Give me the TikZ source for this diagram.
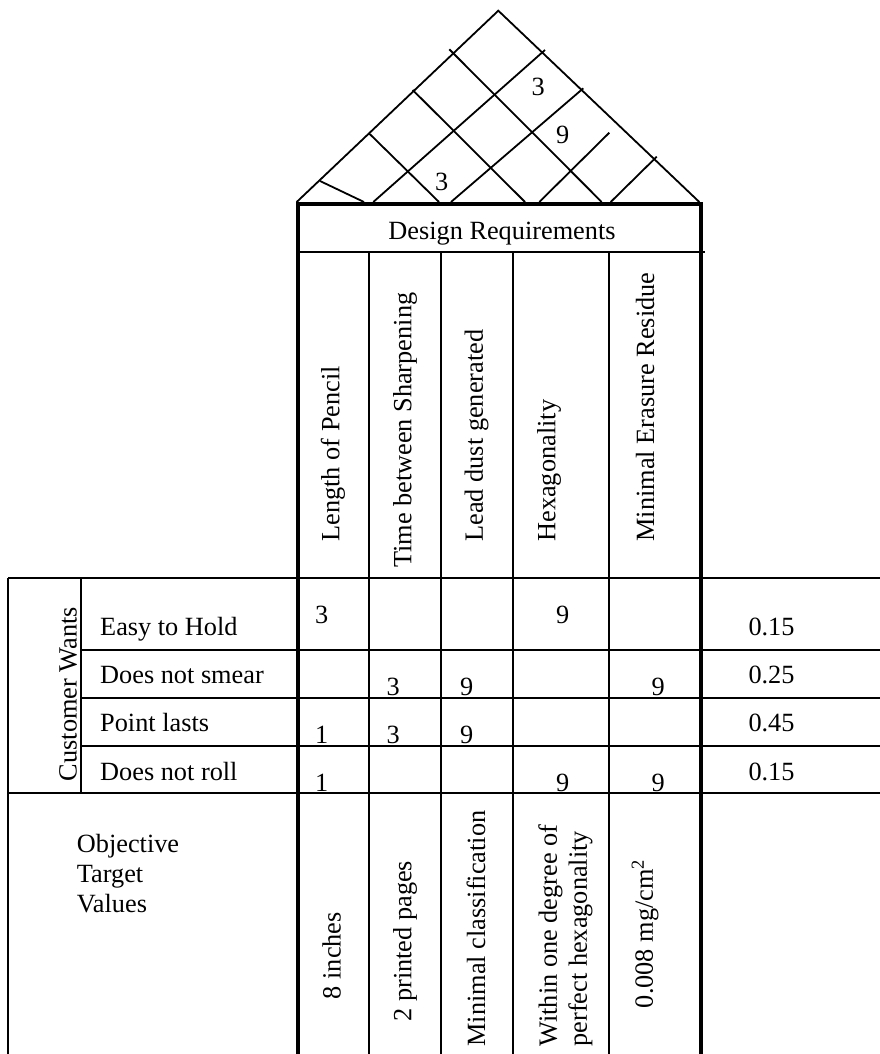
\documentclass[tikz,border=0pt]{standalone}
\usepackage{fontspec}
\setmainfont{Liberation Serif}
\begin{document}
\begin{tikzpicture}[x=1pt,y=-1pt,
  thinline/.style={line width=1.8pt},
  thickline/.style={line width=4pt, line join=miter},
  lbl/.style={inner sep=0pt, font=\fontsize{26.3}{30}\selectfont},
  vlbl/.style={lbl, rotate=90, anchor=west},
  num/.style={lbl, anchor=base},
  rowlbl/.style={lbl, anchor=base west},
]
\useasboundingbox (0,0) rectangle (880,1054);

% ---- roof (correlation matrix) ----
\coordinate (apex) at (498.3,10.7);
\coordinate (roofL) at (296.7,202);
\coordinate (roofR) at (699.3,202);
\draw[thinline] (roofL) -- (apex) -- (roofR);
% lines running down to the right
\draw[thinline] (369,133.3) -- (439,202);
\draw[thinline] (412.7,90) -- (525,202);
\draw[thinline] (449.3,49.3) -- (601.7,202);
% lines running up to the right
\draw[thinline] (373.3,202) -- (545,50);
\draw[thinline] (451,202) -- (583.3,88.3);
\draw[thinline] (539.3,202) -- (609.3,132.7);
\draw[thinline] (610.7,202) -- (656.7,156.7);
\draw[thinline] (320,181) -- (364,202);
\node[num] (r1) at (538.3,95.7) {3};
\node[num] (r2) at (562.7,143.3) {9};
\node[num] (r3) at (441.7,190.7) {3};

% ---- grid ----
% column dividers
\foreach \x in {369,441,512.8,608.8}
  \draw[thinline] (\x,252.3) -- (\x,1054);
% header rule under "Design Requirements"
\draw[thinline] (297.5,252.3) -- (705,252.3);
% horizontal rules across the relationship matrix
\draw[thinline] (8.3,578.3) -- (880,578.3);
\foreach \y in {650,697.7,745.7}
  \draw[thinline] (81,\y) -- (880,\y);
\draw[thinline] (8.3,793.3) -- (880,793.3);
% left-hand boxes
\draw[thinline] (8.3,578.3) -- (8.3,1054);
\draw[thinline] (81,578.3) -- (81,793.3);
% heavy frame of the design-requirements block
\draw[thickline] (297.5,1054) -- (297.5,203.5) -- (700.5,203.5) -- (700.5,1054);

% ---- header ----
\node[lbl, anchor=base] (dr) at (502,239.3) {Design Requirements};
\node[vlbl] (h1) at (333,541.7) {Length of Pencil};
\node[vlbl] (h2) at (405,568) {Time between Sharpening};
\node[vlbl] (h3) at (476.7,541.7) {Lead dust generated};
\node[vlbl] (h4) at (549,541.7) {Hexagonality};
\node[vlbl] (h5) at (645,541.7) {Minimal Erasure Residue};

% ---- customer wants ----
\node[lbl, rotate=90] (cw) at (68.2,694.2) {Customer Wants};
\node[rowlbl] (w1) at (100,635) {Easy to Hold};
\node[rowlbl] (w2) at (100,683.3) {Does not smear};
\node[rowlbl] (w3) at (100,731.7) {Point lasts};
\node[rowlbl] (w4) at (100,780) {Does not roll};

% ---- relationship values ----
\node[num] (m11) at (321.7,623.3) {3};
\node[num] (m14) at (562.7,623.3) {9};
\node[num] (m22) at (393.3,695) {3};
\node[num] (m23) at (466.7,695) {9};
\node[num] (m25) at (658.3,695) {9};
\node[num] (m31) at (321.7,743.3) {1};
\node[num] (m32) at (393.3,743.3) {3};
\node[num] (m33) at (466.7,743.3) {9};
\node[num] (m41) at (321.7,791.7) {1};
\node[num] (m44) at (562.7,791.7) {9};
\node[num] (m45) at (658.3,791.7) {9};

% ---- importance weights ----
\node[rowlbl] (iw1) at (748.3,635) {0.15};
\node[rowlbl] (iw2) at (748.3,683.3) {0.25};
\node[rowlbl] (iw3) at (748.3,731.7) {0.45};
\node[rowlbl] (iw4) at (748.3,780) {0.15};

% ---- objective target values ----
\node[lbl, anchor=north west, align=left] (otv) at (76.7,834) {Objective\\Target\\Values};
\node[vlbl] (t1) at (331.5,999.3) {8 inches};
\node[vlbl] (t2) at (405,1021.7) {2 printed pages};
\node[vlbl] (t3) at (476,1046.7) {Minimal classification};
\node[vlbl, align=left] (t4) at (565.5,1046.7) {Within one degree of\\perfect hexagonality};
\node[vlbl] (t5) at (645,1008.3) {0.008 mg/cm\textsuperscript{2}};
\end{tikzpicture}
\end{document}
